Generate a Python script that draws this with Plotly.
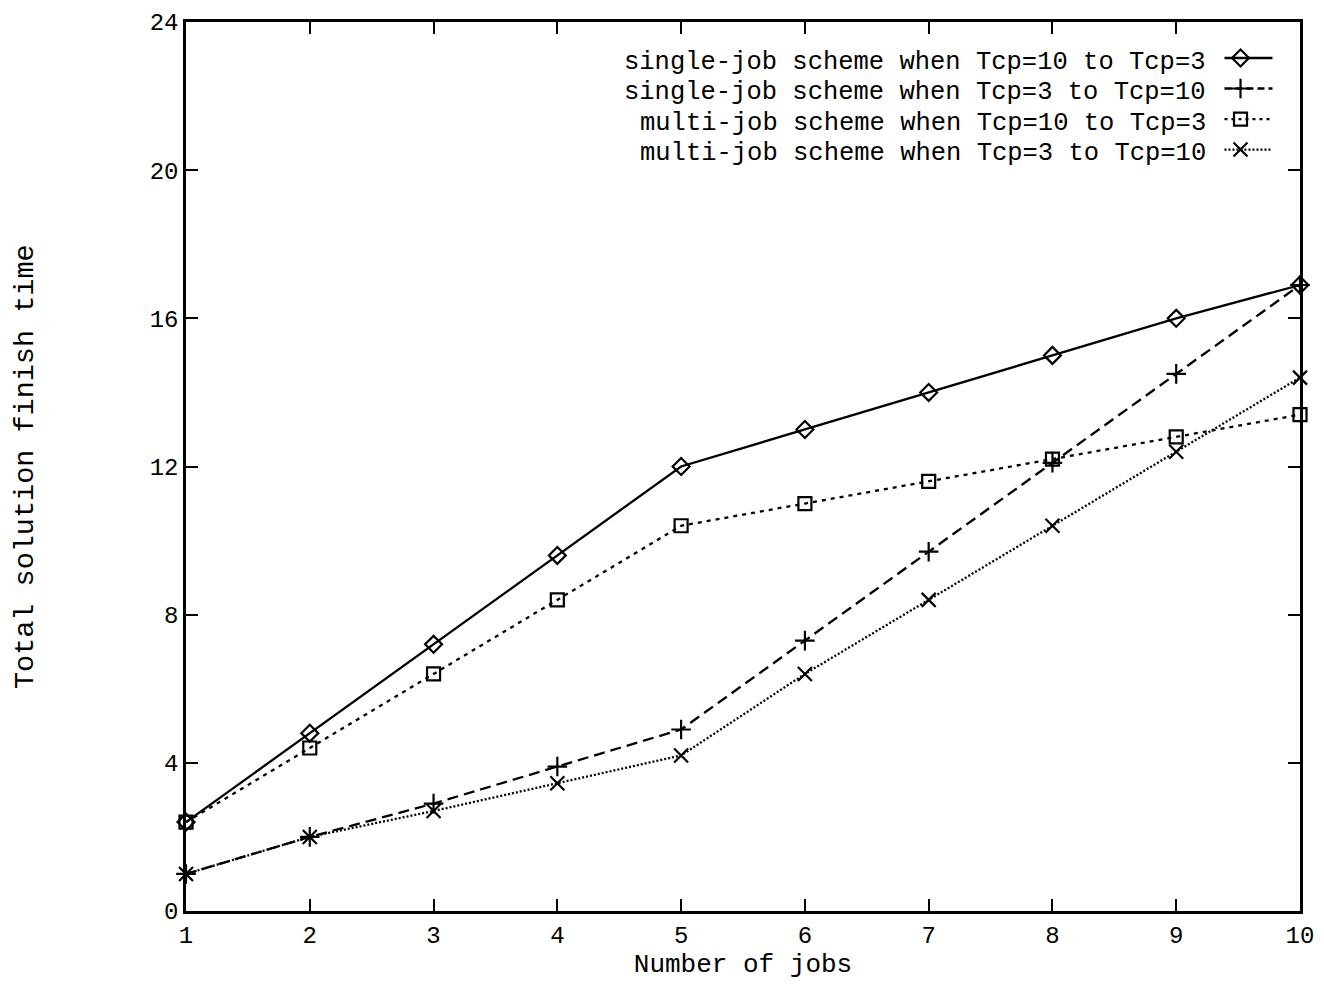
import plotly.graph_objects as go

jobs = [1, 2, 3, 4, 5, 6, 7, 8, 9, 10]
single_10_to_3 = [2.4, 4.8, 7.2, 9.6, 12.0, 13.0, 14.0, 15.0, 16.0, 16.9]
single_3_to_10 = [1.0, 2.0, 2.9, 3.9, 4.9, 7.3, 9.7, 12.1, 14.5, 16.9]
multi_10_to_3 = [2.4, 4.4, 6.4, 8.4, 10.4, 11.0, 11.6, 12.2, 12.8, 13.4]
multi_3_to_10 = [1.0, 2.0, 2.7, 3.45, 4.2, 6.4, 8.4, 10.4, 12.4, 14.4]

names = [
    "single-job scheme when Tcp=10 to Tcp=3",
    "single-job scheme when Tcp=3 to Tcp=10",
    "multi-job scheme when Tcp=10 to Tcp=3",
    "multi-job scheme when Tcp=3 to Tcp=10",
]
series = [single_10_to_3, single_3_to_10, multi_10_to_3, multi_3_to_10]
symbols = ["diamond-open", "cross-thin-open", "square-open", "x-thin-open"]
dashes = ["solid", "11px,6px", "4px,5px", "2px,2px"]
legend_dashes = ["solid", "7px,4px", "3px,4px", "2px,2px"]
msizes = [13, 14, 13, 14]

FONT = "Liberation Mono"
fig = go.Figure()
for nm, ys, sym, dsh, ms in zip(names, series, symbols, dashes, msizes):
    fig.add_trace(go.Scatter(
        x=jobs, y=ys, mode="lines+markers", name=nm, showlegend=False,
        line=dict(color="black", width=2.3, dash=dsh),
        marker=dict(symbol=sym, size=ms, color="black", line=dict(color="black", width=2.2)),
        cliponaxis=False,
    ))

# gnuplot-style legend (text right-aligned, sample on the right)
row_y = [0.9595, 0.9252, 0.8908, 0.8565]
for nm, ry, sym, dsh, ms in zip(names, row_y, symbols, legend_dashes, msizes):
    fig.add_annotation(x=0.917, y=ry - 0.0045, xref="paper", yref="paper", text=nm,
                       showarrow=False, xanchor="right", yanchor="middle",
                       font=dict(family=FONT, size=25.5, color="black"))
    fig.add_trace(go.Scatter(
        x=[0.9322, 0.9753], y=[ry, ry], xaxis="x2", yaxis="y2", mode="lines",
        line=dict(color="black", width=2.3, dash=dsh), showlegend=False, hoverinfo="skip"))
    fig.add_trace(go.Scatter(
        x=[0.9466], y=[ry], xaxis="x2", yaxis="y2", mode="markers",
        marker=dict(symbol=sym, size=ms, color="black", line=dict(color="black", width=2.2)),
        showlegend=False, hoverinfo="skip"))

# y-axis title placed like the original
fig.add_annotation(x=-0.144, y=0.5, xref="paper", yref="paper",
                   text="Total solution finish time", textangle=-90, showarrow=False,
                   xanchor="center", yanchor="middle",
                   font=dict(family=FONT, size=28.5, color="black"))

axis_common = dict(
    showgrid=False, zeroline=False, showline=True, linecolor="black", linewidth=2.5,
    mirror="ticks", ticks="inside", ticklen=12, tickwidth=2, tickcolor="black",
    tickfont=dict(family=FONT, size=24, color="black"), automargin=False,
    ticklabeloverflow="allow",
)
fig.update_layout(
    width=1316, height=982,
    paper_bgcolor="white", plot_bgcolor="white",
    margin=dict(l=178, r=24, t=14, b=79),
    xaxis=dict(range=[1, 10], tickvals=jobs, ticktext=[str(j) for j in jobs],
               title=dict(text="Number of jobs", font=dict(family=FONT, size=26, color="black"), standoff=2),
               **axis_common),
    yaxis=dict(range=[0, 24], tickvals=[0, 4, 8, 12, 16, 20, 24], **axis_common),
    xaxis2=dict(range=[0, 1], overlaying="x", visible=False),
    yaxis2=dict(range=[0, 1], overlaying="y", visible=False),
)
fig.write_html("out.html")
